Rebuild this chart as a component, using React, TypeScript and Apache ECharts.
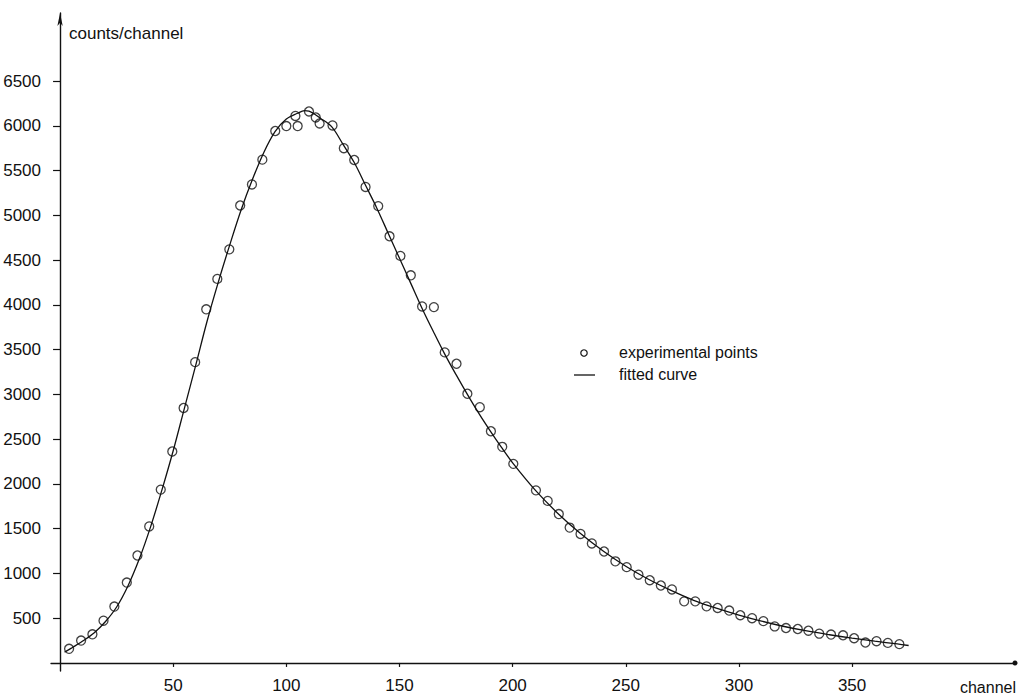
import React, { useEffect, useRef } from "react";
import * as echarts from "echarts";

// experimental points (channel, counts/channel)
const pointChannels = [
  4, 9.3, 14.3, 19.2, 24, 29.5, 34.2, 39.4, 44.5, 49.6, 54.6, 59.7, 64.6, 69.5, 74.8,
  79.6, 84.8, 89.4, 95.1, 100, 104, 105, 110, 113, 114.7, 120.4, 125.4, 130, 135, 140.6,
  145.6, 150.4, 155, 160, 165.2, 170, 175.2, 180, 185.5, 190.4, 195.4, 200.3, 210.3, 215.5,
  220.4, 225.2, 230, 235, 240.4, 245.4, 250.4, 255.6, 260.6, 265.5, 270.4, 275.8, 280.7,
  285.7, 290.6, 295.7, 300.6, 305.8, 310.8, 315.8, 320.8, 326, 330.7, 335.5, 340.7, 346,
  350.9, 355.9, 360.8, 365.8, 370.9,
];
const pointCounts = [
  158, 250, 320, 472, 630, 898, 1200, 1525, 1936, 2362, 2848, 3360, 3950, 4290, 4620,
  5110, 5345, 5622, 5942, 5997, 6110, 5997, 6160, 6093, 6026, 6004, 5750, 5618, 5317, 5103,
  4766, 4547, 4330, 3982, 3975, 3469, 3342, 3007, 2857, 2588, 2414, 2224, 1928, 1810,
  1663, 1512, 1441, 1335, 1245, 1135, 1070, 986, 924, 865, 821, 688, 688,
  632, 614, 585, 533, 500, 467, 408, 390, 379, 360, 327, 317, 309,
  276, 228, 243, 224, 210,
];

// fitted curve
const curveChannels = [
  2, 5, 10, 15, 20, 25, 30, 35, 40, 45, 50, 55, 60, 65, 70, 75, 80, 85, 90, 95, 100, 105,
  108, 110, 115, 120, 125, 130, 135, 140, 145, 150, 155, 160, 165, 170, 175, 180, 185, 190,
  195, 200, 210, 220, 230, 240, 250, 260, 270, 280, 290, 300, 310, 320, 330, 340, 350, 360,
  370, 375,
];
const curveCounts = [
  121, 165, 245, 335, 460, 625, 860, 1160, 1520, 1930, 2370, 2850, 3330, 3820, 4260, 4670,
  5060, 5400, 5700, 5935, 6075, 6140, 6170, 6165, 6085, 5990, 5795, 5590, 5335, 5080, 4800,
  4520, 4240, 3960, 3700, 3450, 3220, 3000, 2790, 2595, 2410, 2235, 1930, 1670, 1445, 1250,
  1080, 935, 810, 700, 612, 535, 467, 407, 357, 315, 277, 243, 212, 195,
];

const xTickValues = [50, 100, 150, 200, 250, 300, 350];
const yTickValues = [500, 1000, 1500, 2000, 2500, 3000, 3500, 4000, 4500, 5000, 5500, 6000, 6500];

const FONT = "Liberation Sans";
const INK = "#111111";

export default function App() {
  const ref = useRef<HTMLDivElement>(null);
  useEffect(() => {
    if (!ref.current) return;
    const chart = echarts.init(ref.current, undefined, { renderer: "svg" });
    chart.setOption({
      animation: false,
      backgroundColor: "#ffffff",
      textStyle: { fontFamily: FONT },
      grid: { left: 51, top: 13, right: 3, bottom: 15, containLabel: false },
      xAxis: {
        type: "value",
        min: -4,
        max: 422,
        splitLine: { show: false },
        axisLine: {
          onZero: true,
          lineStyle: { color: INK, width: 1.3 },
          symbol: ["none", "circle"],
          symbolSize: [5, 5],
        },
        axisTick: {
          customValues: xTickValues,
          length: 4,
          lineStyle: { color: INK, width: 1.2 },
        },
        axisLabel: {
          customValues: xTickValues,
          formatter: (v: number) => String(v),
          fontSize: 17,
          color: INK,
          margin: 6,
          fontFamily: FONT,
        },
      },
      yAxis: {
        type: "value",
        min: -90,
        max: 7260,
        splitLine: { show: false },
        axisLine: {
          onZero: true,
          lineStyle: { color: INK, width: 1.4 },
          symbol: ["none", "arrow"],
          symbolSize: [4, 13],
        },
        axisTick: {
          customValues: yTickValues,
          length: 7,
          lineStyle: { color: INK, width: 1.2 },
        },
        axisLabel: {
          customValues: yTickValues,
          formatter: (v: number) => String(v),
          fontSize: 17,
          color: INK,
          margin: 10,
          fontFamily: FONT,
        },
      },
      graphic: [
        {
          type: "text",
          left: 69,
          top: 25,
          style: { text: "counts/channel", fontSize: 17, fill: INK, fontFamily: FONT },
        },
        {
          type: "text",
          right: 2,
          top: 679,
          style: { text: "channel", fontSize: 16, fill: INK, fontFamily: FONT },
        },
        {
          type: "circle",
          shape: { cx: 584, cy: 353, r: 3.2 },
          style: { fill: "none", stroke: INK, lineWidth: 1.2 },
        },
        {
          type: "text",
          left: 619,
          top: 344,
          style: { text: "experimental points", fontSize: 16, fill: INK, fontFamily: FONT },
        },
        {
          type: "line",
          shape: { x1: 574, y1: 375, x2: 595, y2: 375 },
          style: { stroke: INK, lineWidth: 1.3 },
        },
        {
          type: "text",
          left: 619,
          top: 366,
          style: { text: "fitted curve", fontSize: 16, fill: INK, fontFamily: FONT },
        },
      ],
      series: [
        {
          name: "fitted curve",
          type: "line",
          data: curveChannels.map((c, i) => [c, curveCounts[i]]),
          smooth: 0.35,
          showSymbol: false,
          symbol: "none",
          lineStyle: { color: INK, width: 1.3 },
          z: 2,
        },
        {
          name: "experimental points",
          type: "scatter",
          data: pointChannels.map((c, i) => [c, pointCounts[i]]),
          symbol: "circle",
          symbolSize: 9,
          itemStyle: { color: "rgba(255,255,255,0)", borderColor: INK, borderWidth: 1.3 },
          z: 3,
        },
      ],
    });
    return () => chart.dispose();
  }, []);
  return (
    <div
      ref={ref}
      style={{ position: "absolute", left: 0, top: 0, width: 1018, height: 694 }}
    />
  );
}
